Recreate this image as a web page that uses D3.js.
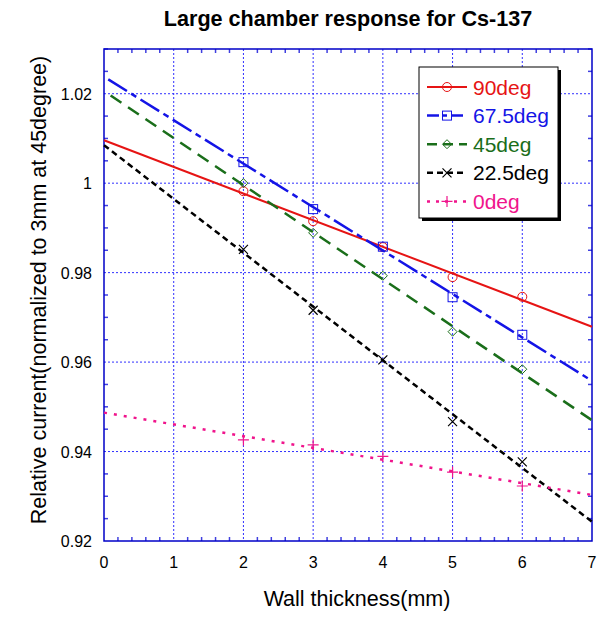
<!DOCTYPE html>
<html>
<head>
<meta charset="utf-8">
<script src="https://cdn.jsdelivr.net/npm/d3@7"></script>
<style>
  body { margin: 0; background: #fff; }
  text { font-family: "Liberation Sans", Arial, sans-serif; }
</style>
</head>
<body>
<script>
// data
const thickness = [2, 3, 4, 5, 6];
const deg90   = [0.9982, 0.9915, 0.9857, 0.9790, 0.9746];
const deg675  = [1.0047, 0.9942, 0.9858, 0.9745, 0.9661];
const deg45   = [1.0000, 0.9889, 0.9793, 0.9668, 0.9584];
const deg225  = [0.9852, 0.9716, 0.9605, 0.9467, 0.9377];
const deg0    = [0.9426, 0.9415, 0.9389, 0.9354, 0.9323];

// fitted lines: value at 0 mm and at 7 mm
const fitEnds = [0, 7];
const fit90  = [1.0096, 0.9679];
const fit675 = [1.0238, 0.9558];
const fit45  = [1.0206, 0.9470];
const fit225 = [1.0085, 0.9243];
const fit0   = [0.9487, 0.9303];

const seriesNames = ["90deg", "67.5deg", "45deg", "22.5deg", "0deg"];
const xTicks = [0, 1, 2, 3, 4, 5, 6, 7];
const yTicks = [0.92, 0.94, 0.96, 0.98, 1.00, 1.02];
const yTickLabels = ["0.92", "0.94", "0.96", "0.98", "1", "1.02"];

class ChamberChart {
    constructor(width, height) {
        this.width = width;
        this.height = height;
        this.left = 104;
        this.right = 592;
        this.top = 49;
        this.bottom = 541;

        this.svg = d3.select("body").append("svg")
            .attr("width", width)
            .attr("height", height);

        this.x = d3.scaleLinear().domain([0, 7]).range([this.left, this.right]);
        this.y = d3.scaleLinear().domain([0.92, 1.03]).range([this.bottom, this.top]);
    }

    drawFrame() {
        const { svg, x, y, left, right, top, bottom } = this;
        const grid = "#3030ff";

        // grid lines at major ticks
        svg.append("g").selectAll("line").data(xTicks.slice(1, -1)).join("line")
            .attr("x1", d => x(d)).attr("x2", d => x(d))
            .attr("y1", top).attr("y2", bottom)
            .attr("stroke", grid).attr("stroke-dasharray", "2,2");
        svg.append("g").selectAll("line").data(yTicks.slice(1)).join("line")
            .attr("x1", left).attr("x2", right)
            .attr("y1", d => y(d)).attr("y2", d => y(d))
            .attr("stroke", grid).attr("stroke-dasharray", "2,2");

        // minor ticks, pointing inward on all four sides
        const xMinor = d3.range(0, 7.0001, 0.2).filter(d => Math.abs(d - Math.round(d)) > 0.01);
        const yMinor = d3.range(0.92, 1.0301, 0.005).filter(d => Math.abs(d * 50 - Math.round(d * 50)) > 0.01);
        const ticks = svg.append("g").attr("stroke", "#4040e0").attr("stroke-width", 1.5);
        xMinor.forEach(d => {
            ticks.append("line").attr("x1", x(d)).attr("x2", x(d)).attr("y1", bottom).attr("y2", bottom - 4);
            ticks.append("line").attr("x1", x(d)).attr("x2", x(d)).attr("y1", top).attr("y2", top + 4);
        });
        yMinor.forEach(d => {
            ticks.append("line").attr("x1", left).attr("x2", left + 4).attr("y1", y(d)).attr("y2", y(d));
            ticks.append("line").attr("x1", right).attr("x2", right - 4).attr("y1", y(d)).attr("y2", y(d));
        });

        svg.append("rect")
            .attr("x", left).attr("y", top)
            .attr("width", right - left).attr("height", bottom - top)
            .attr("fill", "none").attr("stroke", "#0000c8").attr("stroke-width", 1.5);

        // tick labels
        svg.append("g").selectAll("text").data(xTicks).join("text")
            .attr("x", d => x(d)).attr("y", 568)
            .attr("text-anchor", "middle").attr("font-size", 16)
            .text(d => d);
        svg.append("g").selectAll("text").data(yTicks).join("text")
            .attr("x", 92).attr("y", d => y(d) + 6)
            .attr("text-anchor", "end").attr("font-size", 16)
            .text((d, i) => yTickLabels[i]);

        svg.append("text")
            .attr("x", 348).attr("y", 26)
            .attr("text-anchor", "middle").attr("font-size", 21.6).attr("font-weight", "bold")
            .text("Large chamber response for Cs-137");
        svg.append("text")
            .attr("x", 357).attr("y", 606)
            .attr("text-anchor", "middle").attr("font-size", 21.5)
            .text("Wall thickness(mm)");
        svg.append("text")
            .attr("transform", "translate(46,290) rotate(-90)")
            .attr("text-anchor", "middle").attr("font-size", 21.5)
            .text("Relative current(normalized to 3mm at 45degree)");
    }

    marker(g, kind, cx, cy, color) {
        if (kind === "circle") {
            g.append("circle").attr("cx", cx).attr("cy", cy).attr("r", 4.5)
                .attr("fill", "none").attr("stroke", color);
        } else if (kind === "square") {
            g.append("rect").attr("x", cx - 4.5).attr("y", cy - 4.5).attr("width", 9).attr("height", 9)
                .attr("fill", "none").attr("stroke", color);
        } else if (kind === "diamond") {
            g.append("path").attr("d", `M${cx},${cy - 4.5}L${cx + 4.5},${cy}L${cx},${cy + 4.5}L${cx - 4.5},${cy}Z`)
                .attr("fill", "none").attr("stroke", color);
        } else if (kind === "cross") {
            g.append("path").attr("d", `M${cx - 4.5},${cy - 4.5}L${cx + 4.5},${cy + 4.5}M${cx - 4.5},${cy + 4.5}L${cx + 4.5},${cy - 4.5}`)
                .attr("stroke", color).attr("stroke-width", 1.2);
        } else {
            g.append("path").attr("d", `M${cx - 5.5},${cy}L${cx + 5.5},${cy}M${cx},${cy - 5.5}L${cx},${cy + 5.5}`)
                .attr("stroke", color).attr("stroke-width", 1.2);
        }
    }

    drawSeries(list) {
        const { svg, x, y } = this;
        const line = d3.line().x(d => x(d[0])).y(d => y(d[1]));
        list.forEach(s => {
            const g = svg.append("g");
            g.append("path")
                .datum(fitEnds.map((t, i) => [t, s.fit[i]]))
                .attr("d", line)
                .attr("fill", "none")
                .attr("stroke", s.color)
                .attr("stroke-width", s.width)
                .attr("stroke-dasharray", s.dash)
                .attr("stroke-dashoffset", s.offset || 0);
            thickness.forEach((t, i) => this.marker(g, s.marker, x(t), y(s.values[i]), s.color));
        });
    }

    drawLegend(list) {
        const { svg } = this;
        const bx = 419, by = 67, bw = 139, bh = 151;
        svg.append("rect").attr("x", bx + 3).attr("y", by + 3).attr("width", bw).attr("height", bh).attr("fill", "#000");
        svg.append("rect").attr("x", bx).attr("y", by).attr("width", bw).attr("height", bh)
            .attr("fill", "#fff").attr("stroke", "#000");
        list.forEach((s, i) => {
            const cy = 87 + i * 28.6;
            const g = svg.append("g");
            g.append("line").attr("x1", 427).attr("x2", 467).attr("y1", cy).attr("y2", cy)
                .attr("stroke", s.color).attr("stroke-width", s.width)
                .attr("stroke-dasharray", s.legendDash);
            this.marker(g, s.marker, 447, cy, s.color);
            g.append("text").attr("x", 473).attr("y", cy + 7.5)
                .attr("font-size", 21).attr("fill", s.color)
                .text(seriesNames[i]);
        });
    }
}

const series = [
    { values: deg90,  fit: fit90,  color: "#e61414", width: 2,   dash: null,          marker: "circle",  legendDash: null },
    { values: deg675, fit: fit675, color: "#1414e6", width: 2.5, dash: "22,5,6,5", offset: 33, marker: "square",  legendDash: "12,4,4,4" },
    { values: deg45,  fit: fit45,  color: "#1a6e1a", width: 2.5, dash: "13,8", offset: 13,    marker: "diamond", legendDash: "10,6" },
    { values: deg225, fit: fit225, color: "#000000", width: 2.5, dash: "6,4",          marker: "cross",   legendDash: "6,4" },
    { values: deg0,   fit: fit0,   color: "#f0148c", width: 2.5, dash: "3,7",          marker: "plus",    legendDash: "3,6" }
];

const chart = new ChamberChart(603, 617);
chart.drawFrame();
chart.drawSeries(series);
chart.drawLegend(series);
</script>
</body>
</html>
